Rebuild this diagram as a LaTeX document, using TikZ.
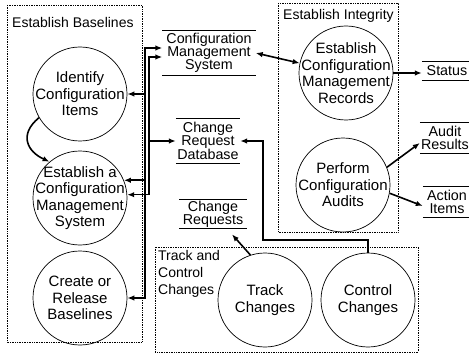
\documentclass[tikz,border=0pt]{standalone}
\usepackage{fontspec}
\setmainfont{Liberation Sans}
\usetikzlibrary{arrows.meta,calc}
\def\proc(#1)(#2)#3{\node[process] (#1) at (#2) {}; \node[proctext] (#1-text) at (#1) {#3};}
\def\storelines#1{\draw[storeline] (#1.north west) -- (#1.north east) (#1.south west) -- (#1.south east);}

\tikzset{
  process/.style={circle, draw, line width=0.7pt, minimum size=94pt, inner sep=0pt},
  proctext/.style={inner sep=0pt, align=center, font=\fontsize{15}{16.5}\selectfont},
  store/.style={inner sep=1pt, align=center, font=\fontsize{14.3}{13}\selectfont},
  storeline/.style={line width=0.8pt},
  frame/.style={densely dotted, line width=0.7pt},
  boxlabel/.style={inner sep=0pt, align=left, font=\fontsize{14}{17}\selectfont},
  flow/.style={line width=1.6pt, ->},
  >={Latex[length=7pt,width=5.5pt]}
}

\begin{document}
\begin{tikzpicture}[x=1pt, y=-1pt]
			%%%%% FRAME %%%%%
			\useasboundingbox (0,0) rectangle (469,353);
			
			\draw[frame] (7,5) rectangle (142,342);
			\draw[frame] (278,3) rectangle (398,232);
			\draw[frame] (155,247) rectangle (418,352);
			
			\node[boxlabel, anchor=west] (baselbl) at (12,22) {Establish Baselines};
			\node[boxlabel, anchor=west] (intlbl) at (283,16) {Establish Integrity};
			\node[boxlabel, anchor=north west] (tracklbl) at (158,250) {Track and\\Control\\Changes};
			
			%%%%% PROCESSES %%%%%
			\proc(ident)(80,94){Identify\\Configuration\\Items}
			\proc(estcms)(80,198){Establish a\\Configuration\\Management\\System}
			\proc(create)(80,298){Create or\\Release\\Baselines}
			\proc(ecmr)(346,73){Establish\\Configuration\\Management\\Records}
			\proc(pca)(343,185){Perform\\Configuration\\Audits}
			\proc(track)(265,300){Track\\Changes}
			\proc(control)(368,300){Control\\Changes}
			
			%%%%% STORES %%%%%
			\node[store, minimum width=93pt, minimum height=45pt] (cms) at (209,53) {Configuration\\Management\\System};
			\node[store, minimum width=64pt, minimum height=45pt] (crd) at (208,141) {Change\\Request\\Database};
			\node[store, minimum width=67pt, minimum height=28pt] (chgreq) at (213,214) {Change\\Requests};
			\node[store, minimum width=50pt, minimum height=19pt] (status) at (447,71) {Status};
			\node[store, minimum width=50pt, minimum height=31pt] (audit) at (445,138) {Audit\\Results};
			\node[store, minimum width=48pt, minimum height=31pt] (action) at (447,202) {Action\\Items};
			\foreach \s in {cms,crd,chgreq,status,audit,action} {\storelines{\s}}
			
			%%%%% FLOWS %%%%%
			\coordinate (busa) at (145,0);
			\coordinate (busb) at (149,0);
			\coordinate (cmsa) at ([yshift=5pt]cms.west);
			\coordinate (cmsb) at ([yshift=-4pt]cms.west);
			\coordinate (ctlbend) at (263,240);
			
			\draw[flow,<->] (create.east) -- (busa |- create.east) -- (busa |- cmsa) -- (cmsa);
			\draw[flow] (busa |- ident.east) -- (ident.east);
			\draw[flow] (busa |- estcms.22) -- (estcms.22);
			\draw[flow,<->] (estcms.4) -- (busb |- estcms.4) -- (busb |- cmsb) -- (cmsb);
			\draw[flow] (busb |- crd.west) -- (crd.west);
			
			\draw[flow] (ident.210) .. controls (18,135) and (28,152) .. (estcms.130);
			
			\draw[flow,<->] (cms.east) -- (ecmr.168);
			\draw[flow] (ecmr.east) -- (ecmr.east -| status.west);
			\draw[flow] (pca.22) -- ([yshift=-5pt]audit.west);
			\draw[flow] (pca.-10) -- ([yshift=-4pt]action.west);
			
			\draw[flow] (track.108) -- ([xshift=19pt,yshift=-6pt]chgreq.south);
			\draw[flow] (control.north) |- (ctlbend) |- (crd.east);
			
			%%%%% END %%%%%
\end{tikzpicture}
\end{document}
